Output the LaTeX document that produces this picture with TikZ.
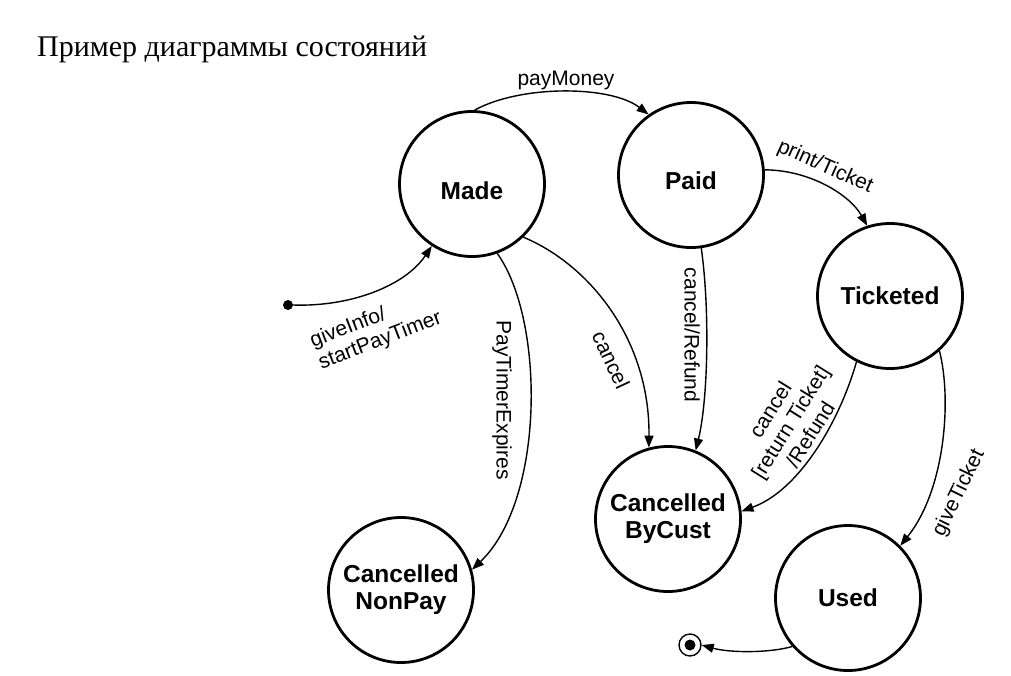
\documentclass[tikz,border=0pt]{standalone}
\usepackage{fontspec}
\setmainfont{Liberation Serif}
\newfontfamily\lsans{Liberation Sans}
\usetikzlibrary{arrows.meta}
\tikzset{
  state/.style={circle, draw, line width=2.8pt, minimum size=145pt, inner sep=0pt, align=center,
    font=\lsans\bfseries\fontsize{24.5}{27}\selectfont},
  trans/.style={line width=1.4pt, -{Triangle[length=12pt,width=9pt]}},
  lbl/.style={inner sep=0pt, font=\lsans\fontsize{21}{23.5}\selectfont},
}
\begin{document}
\begin{tikzpicture}[x=1pt,y=-1pt]
\useasboundingbox[fill=white] (0,0) rectangle (1011,675);
\node[anchor=base west, inner sep=0pt, font=\fontsize{30}{34}\selectfont] (title) at (37,56) {Пример диаграммы состояний};

\node[state] (made) at (472,184) {\raisebox{-15pt}[0pt][0pt]{Made}};
\node[state] (paid) at (691,175) {\raisebox{-14pt}[0pt][0pt]{Paid}};
\node[state] (ticketed) at (890,296) {Ticketed};
\node[state] (bycust) at (668,519) {Cancelled\\ByCust};
\node[state] (nonpay) at (401,590) {Cancelled\\NonPay};
\node[state] (used) at (848,598) {Used};

\node[circle, fill, minimum size=10pt, inner sep=0pt] (init) at (288,305) {};
\node[circle, draw, line width=1.4pt, minimum size=22pt, inner sep=0pt] (final) at (690,645) {};
\node[circle, fill, minimum size=11pt, inner sep=0pt] (finalin) at (final.center) {};

\draw[trans] (init.east) .. controls (350,307) and (405,286) .. (made.237);
\draw[trans] (made.88) .. controls (520,85) and (610,85) .. (paid.125);
\draw[trans] (paid.4) .. controls (810,170) and (850,195) .. (ticketed.108);
\draw[trans] (made.-70) .. controls (545,320) and (545,500) .. (nonpay.16);
\draw[trans] (made.-46) .. controls (590,265) and (650,340) .. (bycust.105);
\draw[trans] (paid.-82) .. controls (710,310) and (708,400) .. (bycust.68);
\draw[trans] (ticketed.-117) .. controls (840,420) and (800,490) .. (bycust.6);
\draw[trans] (ticketed.-48) .. controls (952,400) and (945,490) .. (used.45);
\draw[trans] (used.221) .. controls (770,653) and (730,653) .. (final.east);

\node[lbl] (l1) at (566,80) {payMoney};
\node[lbl, rotate=-24] (l2) at (825,167) {print/Ticket};
\node[lbl, rotate=21, align=left] (l3) at (376,330) {giveInfo/\\startPayTimer};
\node[lbl, rotate=-90] (l4) at (502,400) {PayTimerExpires};
\node[lbl, rotate=-65] (l5) at (611,360) {cancel};
\node[lbl, rotate=-90] (l6) at (692,335) {cancel/Refund};
\node[lbl, rotate=58, align=center] (l7) at (790,422) {cancel\\{[}return Ticket{]}\\/Refund};
\node[lbl, rotate=64] (l8) at (959,493) {giveTicket};
\end{tikzpicture}
\end{document}
